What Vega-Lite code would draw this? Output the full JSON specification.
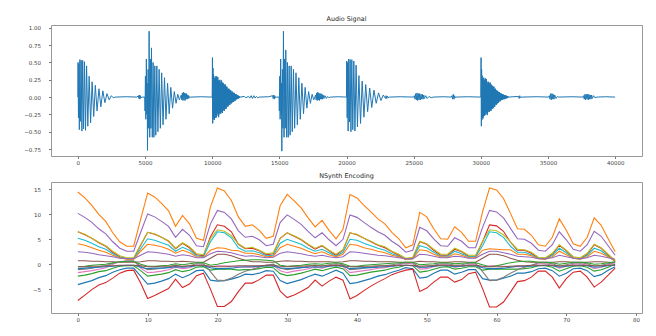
{
"$schema": "https://vega.github.io/schema/vega-lite/v6.json",
"padding": {"left": 20, "top": 15, "right": 10, "bottom": 5},
"background": "white",
"spacing": 3,
"config": {
 "font": "DejaVu Sans",
 "view": {"stroke": "#999", "strokeWidth": 1},
 "axis": {"grid": false, "domain": false, "labelFont": "DejaVu Sans", "labelFontSize": 5.5, "labelColor": "#444", "tickColor": "#777", "tickSize": 2.5, "labelOverlap": false},
 "axisX": {"labelPadding": 2, "minExtent": 12, "maxExtent": 12},
 "axisY": {"labelPadding": 8, "minExtent": 30, "maxExtent": 30},
 "title": {"fontSize": 6.4, "fontWeight": "normal", "color": "#222", "offset": 3, "font": "DejaVu Sans"}
},
"datasets": {
"audio": [
{"s":0,"v":0},{"s":15,"v":0.5},{"s":45,"v":-0.3},{"s":75,"v":0.48},{"s":110,"v":-0.47},{"s":150,"v":0.54},{"s":195,"v":-0.35},{"s":245,"v":0.53},{"s":300,"v":-0.49},{"s":360,"v":0.53},{"s":425,"v":-0.46},{"s":495,"v":0.51},{"s":570,"v":-0.48},{"s":650,"v":0.45},{"s":740,"v":-0.42},{"s":840,"v":0.3},{"s":950,"v":-0.37},{"s":1060,"v":0.22},{"s":1180,"v":-0.28},{"s":1300,"v":0.17},{"s":1430,"v":-0.2},{"s":1570,"v":0.12},{"s":1710,"v":-0.14},{"s":1860,"v":0.09},{"s":2010,"v":-0.08},{"s":2170,"v":0.05},{"s":2330,"v":-0.04},{"s":2490,"v":0.02},{"s":2640,"v":-0.01},{"s":2780,"v":0},
{"s":3600,"v":0.005},{"s":4400,"v":0},
{"s":4500,"v":0.02},{"s":4540,"v":-0.02},{"s":4580,"v":0.03},{"s":4620,"v":-0.03},{"s":4660,"v":0.02},{"s":4700,"v":-0.01},{"s":4800,"v":0},{"s":4980,"v":0},
{"s":5000,"v":-0.2},{"s":5030,"v":0.3},{"s":5060,"v":-0.32},{"s":5100,"v":0.55},{"s":5140,"v":-0.25},{"s":5160,"v":0.2},{"s":5185,"v":-0.77},{"s":5230,"v":0.4},{"s":5270,"v":-0.45},{"s":5305,"v":0.95},{"s":5350,"v":-0.58},{"s":5400,"v":0.55},{"s":5440,"v":-0.45},{"s":5480,"v":0.71},{"s":5540,"v":-0.58},{"s":5600,"v":0.5},{"s":5660,"v":-0.58},{"s":5730,"v":0.45},{"s":5800,"v":-0.55},{"s":5880,"v":0.45},{"s":5960,"v":-0.5},{"s":6050,"v":0.4},{"s":6140,"v":-0.45},{"s":6240,"v":0.35},{"s":6340,"v":-0.4},{"s":6450,"v":0.28},{"s":6560,"v":-0.32},{"s":6680,"v":0.2},{"s":6800,"v":-0.24},{"s":6920,"v":0.14},{"s":7050,"v":-0.16},{"s":7180,"v":0.08},{"s":7310,"v":-0.09},{"s":7440,"v":0.04},{"s":7560,"v":-0.04},{"s":7640,"v":0},
{"s":7700,"v":0.03},{"s":7740,"v":-0.04},{"s":7780,"v":0.06},{"s":7820,"v":-0.05},{"s":7860,"v":0.07},{"s":7900,"v":-0.04},{"s":7940,"v":0.06},{"s":7980,"v":-0.05},{"s":8020,"v":0.05},{"s":8060,"v":-0.03},{"s":8100,"v":0.05},{"s":8140,"v":-0.03},{"s":8180,"v":0.03},{"s":8220,"v":-0.02},{"s":8260,"v":0.02},{"s":8320,"v":-0.01},{"s":8400,"v":0},
{"s":9200,"v":0.005},{"s":9980,"v":0},
{"s":10000,"v":0},{"s":10020,"v":0.57},{"s":10040,"v":-0.38},{"s":10060,"v":0.42},{"s":10080,"v":-0.3},{"s":10100,"v":0.33},{"s":10120,"v":-0.32},{"s":10140,"v":0.28},{"s":10160,"v":-0.33},{"s":10180,"v":0.25},{"s":10200,"v":-0.3},{"s":10220,"v":0.3},{"s":10240,"v":-0.26},{"s":10260,"v":0.27},{"s":10280,"v":-0.3},{"s":10300,"v":0.21},{"s":10320,"v":-0.28},{"s":10340,"v":0.3},{"s":10360,"v":-0.24},{"s":10380,"v":0.27},{"s":10400,"v":-0.22},{"s":10420,"v":0.29},{"s":10440,"v":-0.27},{"s":10460,"v":0.24},{"s":10480,"v":-0.29},{"s":10500,"v":0.2},{"s":10520,"v":-0.25},{"s":10540,"v":0.24},{"s":10560,"v":-0.2},{"s":10580,"v":0.25},{"s":10600,"v":-0.23},{"s":10620,"v":0.19},{"s":10640,"v":-0.24},{"s":10660,"v":0.22},{"s":10680,"v":-0.18},{"s":10700,"v":0.24},{"s":10720,"v":-0.22},{"s":10740,"v":0.17},{"s":10760,"v":-0.23},{"s":10780,"v":0.21},{"s":10800,"v":-0.19},{"s":10820,"v":0.2},{"s":10840,"v":-0.17},{"s":10860,"v":0.19},{"s":10880,"v":-0.2},{"s":10900,"v":0.15},{"s":10920,"v":-0.19},{"s":10940,"v":0.18},{"s":10960,"v":-0.14},{"s":10980,"v":0.18},{"s":11000,"v":-0.17},{"s":11020,"v":0.13},{"s":11040,"v":-0.17},{"s":11060,"v":0.15},{"s":11080,"v":-0.12},{"s":11100,"v":0.15},{"s":11120,"v":-0.13},{"s":11140,"v":0.12},{"s":11160,"v":-0.14},{"s":11180,"v":0.11},{"s":11200,"v":-0.13},{"s":11220,"v":0.12},{"s":11240,"v":-0.1},{"s":11260,"v":0.12},{"s":11280,"v":-0.11},{"s":11300,"v":0.09},{"s":11320,"v":-0.11},{"s":11340,"v":0.1},{"s":11360,"v":-0.08},{"s":11380,"v":0.1},{"s":11400,"v":-0.09},{"s":11420,"v":0.08},{"s":11440,"v":-0.09},{"s":11460,"v":0.07},{"s":11480,"v":-0.08},{"s":11500,"v":0.08},{"s":11520,"v":-0.06},{"s":11540,"v":0.07},{"s":11560,"v":-0.07},{"s":11580,"v":0.05},{"s":11600,"v":-0.07},{"s":11620,"v":0.06},{"s":11640,"v":-0.05},{"s":11660,"v":0.06},{"s":11680,"v":-0.05},{"s":11700,"v":0.04},{"s":11720,"v":-0.05},{"s":11740,"v":0.04},{"s":11760,"v":-0.04},{"s":11780,"v":0.04},{"s":11800,"v":-0.03},{"s":11820,"v":0.035},{"s":11840,"v":-0.03},{"s":11860,"v":0.03},{"s":11880,"v":-0.025},{"s":11900,"v":0.025},{"s":11920,"v":-0.02},{"s":11940,"v":0.02},{"s":11960,"v":-0.02},{"s":11980,"v":0.015},{"s":12000,"v":-0.015},{"s":12020,"v":0.01},{"s":12040,"v":-0.01},{"s":12060,"v":0.005},{"s":12080,"v":0},
{"s":12400,"v":0.01},{"s":12500,"v":-0.01},{"s":12700,"v":0.01},{"s":12800,"v":-0.015},{"s":12900,"v":0.02},{"s":13000,"v":-0.02},{"s":13100,"v":0.02},{"s":13200,"v":-0.015},{"s":13300,"v":0.01},{"s":13400,"v":-0.01},{"s":13500,"v":0},
{"s":14200,"v":0.005},
{"s":14500,"v":0.02},{"s":14540,"v":-0.02},{"s":14580,"v":0.03},{"s":14620,"v":-0.03},{"s":14660,"v":0.02},{"s":14700,"v":-0.01},{"s":14800,"v":0},{"s":14980,"v":0},
{"s":15000,"v":-0.2},{"s":15030,"v":0.3},{"s":15060,"v":-0.32},{"s":15100,"v":0.55},{"s":15140,"v":-0.25},{"s":15160,"v":0.2},{"s":15185,"v":-0.78},{"s":15230,"v":0.4},{"s":15270,"v":-0.45},{"s":15305,"v":0.95},{"s":15350,"v":-0.58},{"s":15400,"v":0.55},{"s":15440,"v":-0.45},{"s":15480,"v":0.68},{"s":15540,"v":-0.58},{"s":15600,"v":0.5},{"s":15660,"v":-0.58},{"s":15730,"v":0.45},{"s":15800,"v":-0.55},{"s":15880,"v":0.45},{"s":15960,"v":-0.5},{"s":16050,"v":0.4},{"s":16140,"v":-0.45},{"s":16240,"v":0.35},{"s":16340,"v":-0.4},{"s":16450,"v":0.28},{"s":16560,"v":-0.32},{"s":16680,"v":0.2},{"s":16800,"v":-0.24},{"s":16920,"v":0.14},{"s":17050,"v":-0.16},{"s":17180,"v":0.08},{"s":17310,"v":-0.09},{"s":17440,"v":0.04},{"s":17560,"v":-0.04},{"s":17640,"v":0},
{"s":17700,"v":0.03},{"s":17740,"v":-0.04},{"s":17780,"v":0.06},{"s":17820,"v":-0.05},{"s":17860,"v":0.07},{"s":17900,"v":-0.04},{"s":17940,"v":0.06},{"s":17980,"v":-0.05},{"s":18020,"v":0.05},{"s":18060,"v":-0.03},{"s":18100,"v":0.05},{"s":18140,"v":-0.03},{"s":18180,"v":0.04},{"s":18220,"v":-0.03},{"s":18260,"v":0.03},{"s":18320,"v":-0.02},{"s":18400,"v":0.02},{"s":18500,"v":-0.02},{"s":18600,"v":0.01},{"s":18700,"v":-0.01},{"s":18800,"v":0},
{"s":19400,"v":0.005},{"s":19990,"v":0},
{"s":20000,"v":0},{"s":20017,"v":0.52},{"s":20050,"v":-0.3},{"s":20083,"v":0.5},{"s":20121,"v":-0.49},{"s":20165,"v":0.55},{"s":20215,"v":-0.36},{"s":20270,"v":0.54},{"s":20330,"v":-0.5},{"s":20396,"v":0.54},{"s":20468,"v":-0.47},{"s":20545,"v":0.52},{"s":20627,"v":-0.49},{"s":20715,"v":0.46},{"s":20814,"v":-0.43},{"s":20924,"v":0.31},{"s":21045,"v":-0.38},{"s":21166,"v":0.23},{"s":21298,"v":-0.29},{"s":21430,"v":0.18},{"s":21573,"v":-0.21},{"s":21727,"v":0.13},{"s":21881,"v":-0.15},{"s":22046,"v":0.1},{"s":22211,"v":-0.09},{"s":22387,"v":0.06},{"s":22563,"v":-0.05},{"s":22739,"v":0.03},{"s":22904,"v":-0.02},{"s":22950,"v":0.02},{"s":23000,"v":-0.02},{"s":23050,"v":0.015},{"s":23100,"v":-0.01},{"s":23200,"v":0},
{"s":24000,"v":0.005},{"s":25000,"v":0},
{"s":25050,"v":0.02},{"s":25100,"v":-0.03},{"s":25150,"v":0.05},{"s":25200,"v":-0.04},{"s":25250,"v":0.06},{"s":25300,"v":-0.05},{"s":25350,"v":0.05},{"s":25400,"v":-0.04},{"s":25450,"v":0.05},{"s":25500,"v":-0.04},{"s":25550,"v":0.04},{"s":25600,"v":-0.03},{"s":25650,"v":0.04},{"s":25700,"v":-0.03},{"s":25750,"v":0.03},{"s":25800,"v":-0.02},{"s":25900,"v":0.02},{"s":26000,"v":-0.02},{"s":26150,"v":0.01},{"s":26300,"v":-0.01},{"s":26450,"v":0},
{"s":27200,"v":0.005},{"s":27800,"v":0},
{"s":27850,"v":0.02},{"s":27900,"v":-0.03},{"s":27950,"v":0.04},{"s":28000,"v":-0.03},{"s":28050,"v":0.02},{"s":28100,"v":-0.01},{"s":28150,"v":0},
{"s":29000,"v":0.005},{"s":29980,"v":0},
{"s":30000,"v":0},{"s":30020,"v":0.57},{"s":30040,"v":-0.42},{"s":30060,"v":0.4},{"s":30080,"v":-0.33},{"s":30100,"v":0.31},{"s":30120,"v":-0.3},{"s":30140,"v":0.27},{"s":30160,"v":-0.31},{"s":30180,"v":0.24},{"s":30200,"v":-0.28},{"s":30220,"v":0.28},{"s":30240,"v":-0.24},{"s":30260,"v":0.25},{"s":30280,"v":-0.27},{"s":30300,"v":0.2},{"s":30320,"v":-0.26},{"s":30340,"v":0.27},{"s":30360,"v":-0.22},{"s":30380,"v":0.25},{"s":30400,"v":-0.21},{"s":30420,"v":0.26},{"s":30440,"v":-0.24},{"s":30460,"v":0.22},{"s":30480,"v":-0.26},{"s":30500,"v":0.18},{"s":30520,"v":-0.22},{"s":30540,"v":0.22},{"s":30560,"v":-0.18},{"s":30580,"v":0.22},{"s":30600,"v":-0.21},{"s":30620,"v":0.17},{"s":30640,"v":-0.21},{"s":30660,"v":0.2},{"s":30680,"v":-0.16},{"s":30700,"v":0.21},{"s":30720,"v":-0.19},{"s":30740,"v":0.15},{"s":30760,"v":-0.2},{"s":30780,"v":0.18},{"s":30800,"v":-0.17},{"s":30820,"v":0.17},{"s":30840,"v":-0.15},{"s":30860,"v":0.16},{"s":30880,"v":-0.17},{"s":30900,"v":0.13},{"s":30920,"v":-0.16},{"s":30940,"v":0.15},{"s":30960,"v":-0.12},{"s":30980,"v":0.15},{"s":31000,"v":-0.14},{"s":31020,"v":0.11},{"s":31040,"v":-0.14},{"s":31060,"v":0.12},{"s":31080,"v":-0.1},{"s":31100,"v":0.12},{"s":31120,"v":-0.11},{"s":31140,"v":0.1},{"s":31160,"v":-0.11},{"s":31180,"v":0.09},{"s":31200,"v":-0.1},{"s":31220,"v":0.09},{"s":31240,"v":-0.08},{"s":31260,"v":0.09},{"s":31280,"v":-0.08},{"s":31300,"v":0.07},{"s":31320,"v":-0.08},{"s":31340,"v":0.07},{"s":31360,"v":-0.06},{"s":31380,"v":0.07},{"s":31400,"v":-0.06},{"s":31420,"v":0.06},{"s":31440,"v":-0.06},{"s":31460,"v":0.05},{"s":31480,"v":-0.05},{"s":31500,"v":0.05},{"s":31520,"v":-0.04},{"s":31540,"v":0.05},{"s":31560,"v":-0.04},{"s":31580,"v":0.04},{"s":31600,"v":-0.04},{"s":31620,"v":0.04},{"s":31640,"v":-0.03},{"s":31660,"v":0.04},{"s":31680,"v":-0.03},{"s":31700,"v":0.03},{"s":31720,"v":-0.03},{"s":31740,"v":0.03},{"s":31760,"v":-0.03},{"s":31780,"v":0.03},{"s":31800,"v":-0.02},{"s":31820,"v":0.025},{"s":31840,"v":-0.02},{"s":31860,"v":0.02},{"s":31880,"v":-0.02},{"s":31900,"v":0.02},{"s":31920,"v":-0.015},{"s":31940,"v":0.015},{"s":31960,"v":-0.015},{"s":31980,"v":0.01},{"s":32000,"v":-0.01},{"s":32020,"v":0.01},{"s":32040,"v":-0.005},{"s":32060,"v":0.005},{"s":32080,"v":0},
{"s":32800,"v":0.01},{"s":32850,"v":-0.02},{"s":32900,"v":0.02},{"s":32950,"v":-0.01},{"s":33000,"v":0},
{"s":34200,"v":0.005},{"s":35050,"v":0},
{"s":35100,"v":0.02},{"s":35150,"v":-0.03},{"s":35200,"v":0.05},{"s":35250,"v":-0.04},{"s":35300,"v":0.05},{"s":35350,"v":-0.03},{"s":35400,"v":0.04},{"s":35450,"v":-0.03},{"s":35500,"v":0.03},{"s":35600,"v":-0.02},{"s":35700,"v":0.01},{"s":35800,"v":0},
{"s":36800,"v":0.005},{"s":37600,"v":0},
{"s":37650,"v":0.02},{"s":37700,"v":-0.03},{"s":37750,"v":0.04},{"s":37800,"v":-0.04},{"s":37850,"v":0.04},{"s":37900,"v":-0.03},{"s":37950,"v":0.04},{"s":38000,"v":-0.04},{"s":38050,"v":0.04},{"s":38100,"v":-0.03},{"s":38150,"v":0.03},{"s":38200,"v":-0.03},{"s":38250,"v":0.03},{"s":38300,"v":-0.02},{"s":38400,"v":0.02},{"s":38500,"v":-0.01},{"s":38650,"v":0},
{"s":39300,"v":0.005},{"s":40000,"v":0}
],
"enc": [
{"t":0,"c00":-4.1,"c01":14.5,"c02":-2.4,"c03":6.5,"c04":10.2,"c05":0.7,"c06":-1.7,"c07":-1.1,"c08":6.5,"c09":5.2,"c10":-0.9,"c11":4.1,"c12":-0.5,"c13":-7.3,"c14":2.5,"c15":-0.5},
{"t":1,"c00":-3.7,"c01":13.3,"c02":-2.2,"c03":5.9,"c04":9.4,"c05":0.7,"c06":-1.5,"c07":-1.0,"c08":6.0,"c09":4.8,"c10":-0.8,"c11":3.8,"c12":-0.4,"c13":-6.2,"c14":2.4,"c15":-0.5},
{"t":2,"c00":-3.3,"c01":11.8,"c02":-1.9,"c03":5.2,"c04":8.4,"c05":0.6,"c06":-1.3,"c07":-0.8,"c08":5.2,"c09":4.2,"c10":-0.7,"c11":3.3,"c12":-0.2,"c13":-5.1,"c14":2.2,"c15":-0.4},
{"t":3,"c00":-2.7,"c01":10.0,"c02":-1.5,"c03":4.3,"c04":7.1,"c05":0.6,"c06":-1.0,"c07":-0.5,"c08":4.4,"c09":3.5,"c10":-0.6,"c11":2.8,"c12":-0.1,"c13":-4.2,"c14":1.9,"c15":-0.4},
{"t":4,"c00":-2.3,"c01":8.6,"c02":-1.3,"c03":3.6,"c04":6.1,"c05":0.5,"c06":-0.7,"c07":-0.3,"c08":3.7,"c09":3.0,"c10":-0.5,"c11":2.4,"c12":0.0,"c13":-3.7,"c14":1.7,"c15":-0.3},
{"t":5,"c00":-1.6,"c01":6.3,"c02":-0.8,"c03":2.4,"c04":4.5,"c05":0.5,"c06":0.0,"c07":0.2,"c08":2.6,"c09":2.1,"c10":-0.4,"c11":1.8,"c12":0.3,"c13":-2.8,"c14":1.5,"c15":-0.3},
{"t":6,"c00":-1.1,"c01":4.5,"c02":-0.4,"c03":1.5,"c04":3.2,"c05":0.4,"c06":0.5,"c07":0.5,"c08":1.7,"c09":1.4,"c10":-0.3,"c11":1.3,"c12":0.5,"c13":-1.8,"c14":1.2,"c15":-0.2},
{"t":7,"c00":-0.8,"c01":3.6,"c02":-0.3,"c03":1.1,"c04":2.6,"c05":0.4,"c06":0.7,"c07":0.6,"c08":1.3,"c09":1.1,"c10":-0.2,"c11":1.0,"c12":0.6,"c13":-1.3,"c14":1.1,"c15":-0.2},
{"t":8,"c00":-0.8,"c01":3.6,"c02":-0.3,"c03":1.1,"c04":2.6,"c05":0.4,"c06":0.7,"c07":0.6,"c08":1.3,"c09":1.1,"c10":-0.2,"c11":1.0,"c12":0.6,"c13":-1.2,"c14":1.1,"c15":-0.2},
{"t":9,"c00":-2.4,"c01":9.0,"c02":-1.3,"c03":3.8,"c04":6.4,"c05":0.5,"c06":-0.8,"c07":-0.4,"c08":3.9,"c09":3.1,"c10":-0.6,"c11":2.6,"c12":0.0,"c13":-3.8,"c14":1.8,"c15":-0.3},
{"t":10,"c00":-4.0,"c01":14.3,"c02":-2.4,"c03":6.4,"c04":10.1,"c05":0.7,"c06":-1.7,"c07":-1.1,"c08":6.4,"c09":5.1,"c10":-0.9,"c11":4.0,"c12":-0.4,"c13":-6.9,"c14":2.5,"c15":-0.5},
{"t":11,"c00":-3.8,"c01":13.5,"c02":-2.2,"c03":6.0,"c04":9.5,"c05":0.7,"c06":-1.6,"c07":-1.0,"c08":6.1,"c09":4.8,"c10":-0.8,"c11":3.8,"c12":-0.4,"c13":-6.3,"c14":2.4,"c15":-0.5},
{"t":12,"c00":-3.4,"c01":12.2,"c02":-2.0,"c03":5.4,"c04":8.6,"c05":0.6,"c06":-1.4,"c07":-0.8,"c08":5.4,"c09":4.3,"c10":-0.8,"c11":3.5,"c12":-0.3,"c13":-5.6,"c14":2.2,"c15":-0.4},
{"t":13,"c00":-2.9,"c01":10.7,"c02":-1.7,"c03":4.6,"c04":7.6,"c05":0.6,"c06":-1.1,"c07":-0.6,"c08":4.7,"c09":3.8,"c10":-0.7,"c11":3.0,"c12":-0.2,"c13":-4.9,"c14":2.0,"c15":-0.4},
{"t":14,"c00":-2.0,"c01":7.6,"c02":-1.1,"c03":3.1,"c04":5.4,"c05":0.5,"c06":-0.6,"c07":-0.2,"c08":3.2,"c09":2.6,"c10":-0.5,"c11":2.2,"c12":0.1,"c13":-3.0,"c14":1.6,"c15":-0.3},
{"t":15,"c00":-2.7,"c01":9.8,"c02":-1.5,"c03":4.2,"c04":7.0,"c05":0.6,"c06":-0.9,"c07":-0.5,"c08":4.3,"c09":3.4,"c10":-0.6,"c11":2.8,"c12":-0.1,"c13":-4.7,"c14":1.9,"c15":-0.4},
{"t":16,"c00":-2.1,"c01":8.1,"c02":-1.2,"c03":3.3,"c04":5.8,"c05":0.5,"c06":-0.7,"c07":-0.3,"c08":3.5,"c09":2.8,"c10":-0.5,"c11":2.3,"c12":0.1,"c13":-4.0,"c14":1.7,"c15":-0.3},
{"t":17,"c00":-1.3,"c01":5.2,"c02":-0.6,"c03":1.9,"c04":3.7,"c05":0.4,"c06":-0.2,"c07":0.1,"c08":2.1,"c09":1.7,"c10":-0.3,"c11":1.5,"c12":0.3,"c13":-2.3,"c14":1.3,"c15":-0.2},
{"t":18,"c00":-1.2,"c01":4.8,"c02":-0.5,"c03":1.7,"c04":3.5,"c05":0.4,"c06":-0.1,"c07":0.1,"c08":1.9,"c09":1.5,"c10":-0.3,"c11":1.4,"c12":0.3,"c13":-1.8,"c14":1.3,"c15":-0.2},
{"t":19,"c00":-3.2,"c01":11.5,"c02":-1.2,"c03":5.5,"c04":8.1,"c05":1.2,"c06":-0.6,"c07":-1.5,"c08":5.1,"c09":4.5,"c10":-0.7,"c11":2.8,"c12":-0.2,"c13":-5.0,"c14":2.1,"c15":-0.4},
{"t":20,"c00":-3.4,"c01":15.3,"c02":-1.0,"c03":7.9,"c04":10.8,"c05":2.0,"c06":-0.3,"c07":-3.2,"c08":6.9,"c09":6.5,"c10":-0.9,"c11":3.3,"c12":0.0,"c13":-8.5,"c14":2.6,"c15":-0.5},
{"t":21,"c00":-3.3,"c01":14.7,"c02":-1.0,"c03":7.6,"c04":10.4,"c05":2.0,"c06":-0.3,"c07":-3.3,"c08":6.6,"c09":6.3,"c10":-0.9,"c11":3.2,"c12":0.3,"c13":-8.5,"c14":2.5,"c15":-0.5},
{"t":22,"c00":-3.0,"c01":12.8,"c02":-1.0,"c03":6.5,"c04":9.1,"c05":1.7,"c06":-0.4,"c07":-2.8,"c08":5.7,"c09":5.3,"c10":-0.8,"c11":2.8,"c12":0.5,"c13":-7.5,"c14":2.3,"c15":-0.4},
{"t":23,"c00":-2.6,"c01":9.5,"c02":-1.2,"c03":4.0,"c04":6.7,"c05":1.2,"c06":-0.5,"c07":-2.0,"c08":4.1,"c09":3.3,"c10":-0.6,"c11":2.7,"c12":0.7,"c13":-5.5,"c14":1.9,"c15":-0.3},
{"t":24,"c00":-2.0,"c01":7.6,"c02":-1.1,"c03":3.1,"c04":5.4,"c05":0.8,"c06":-0.6,"c07":-1.4,"c08":3.2,"c09":2.6,"c10":-0.5,"c11":2.2,"c12":0.8,"c13":-3.8,"c14":1.6,"c15":-0.3},
{"t":25,"c00":-2.1,"c01":7.9,"c02":-1.1,"c03":3.2,"c04":5.6,"c05":0.5,"c06":-0.6,"c07":-1.0,"c08":3.4,"c09":2.7,"c10":-0.5,"c11":2.2,"c12":0.9,"c13":-3.8,"c14":1.7,"c15":-0.3},
{"t":26,"c00":-1.8,"c01":6.8,"c02":-0.9,"c03":2.7,"c04":4.9,"c05":0.5,"c06":-0.4,"c07":-0.6,"c08":2.8,"c09":2.3,"c10":-0.4,"c11":1.9,"c12":0.9,"c13":-3.1,"c14":1.5,"c15":-0.3},
{"t":27,"c00":-1.3,"c01":5.2,"c02":-0.6,"c03":1.9,"c04":3.7,"c05":0.4,"c06":-0.2,"c07":-0.2,"c08":2.1,"c09":1.7,"c10":-0.3,"c11":1.5,"c12":0.8,"c13":-2.2,"c14":1.3,"c15":-0.2},
{"t":28,"c00":-1.4,"c01":5.6,"c02":-0.7,"c03":2.1,"c04":4.0,"c05":0.4,"c06":-0.2,"c07":0.0,"c08":2.3,"c09":1.8,"c10":-0.4,"c11":1.6,"c12":0.7,"c13":-2.2,"c14":1.4,"c15":-0.2},
{"t":29,"c00":-3.3,"c01":11.8,"c02":-1.9,"c03":5.2,"c04":8.4,"c05":0.6,"c06":-1.3,"c07":-0.8,"c08":5.2,"c09":4.2,"c10":-0.7,"c11":3.3,"c12":-0.2,"c13":-5.4,"c14":2.2,"c15":-0.4},
{"t":30,"c00":-3.9,"c01":14.0,"c02":-2.3,"c03":6.3,"c04":9.9,"c05":0.7,"c06":-1.7,"c07":-1.1,"c08":6.3,"c09":5.0,"c10":-0.9,"c11":4.0,"c12":-0.4,"c13":-6.7,"c14":2.5,"c15":-0.5},
{"t":31,"c00":-3.5,"c01":12.7,"c02":-2.1,"c03":5.6,"c04":9.0,"c05":0.6,"c06":-1.4,"c07":-0.9,"c08":5.7,"c09":4.5,"c10":-0.8,"c11":3.6,"c12":-0.3,"c13":-6.2,"c14":2.3,"c15":-0.4},
{"t":32,"c00":-3.1,"c01":11.3,"c02":-1.8,"c03":4.9,"c04":8.0,"c05":0.6,"c06":-1.2,"c07":-0.7,"c08":5.0,"c09":4.0,"c10":-0.7,"c11":3.2,"c12":-0.2,"c13":-5.5,"c14":2.1,"c15":-0.4},
{"t":33,"c00":-2.5,"c01":9.3,"c02":-1.4,"c03":3.9,"c04":6.6,"c05":0.5,"c06":-0.9,"c07":-0.4,"c08":4.0,"c09":3.2,"c10":-0.6,"c11":2.6,"c12":0.0,"c13":-4.7,"c14":1.8,"c15":-0.3},
{"t":34,"c00":-2.0,"c01":7.5,"c02":-1.0,"c03":3.0,"c04":5.3,"c05":0.5,"c06":-0.6,"c07":-0.2,"c08":3.2,"c09":2.6,"c10":-0.5,"c11":2.1,"c12":0.1,"c13":-3.2,"c14":1.6,"c15":-0.3},
{"t":35,"c00":-2.4,"c01":8.8,"c02":-1.3,"c03":3.7,"c04":6.3,"c05":0.5,"c06":-0.8,"c07":-0.4,"c08":3.8,"c09":3.0,"c10":-0.6,"c11":2.5,"c12":0.0,"c13":-4.4,"c14":1.8,"c15":-0.3},
{"t":36,"c00":-1.8,"c01":6.8,"c02":-0.9,"c03":2.7,"c04":4.9,"c05":0.5,"c06":-0.4,"c07":-0.1,"c08":2.8,"c09":2.3,"c10":-0.4,"c11":1.9,"c12":0.2,"c13":-3.4,"c14":1.5,"c15":-0.3},
{"t":37,"c00":-1.2,"c01":5.1,"c02":-0.6,"c03":1.8,"c04":3.7,"c05":0.4,"c06":-0.1,"c07":0.1,"c08":2.0,"c09":1.6,"c10":-0.3,"c11":1.5,"c12":0.3,"c13":-2.6,"c14":1.3,"c15":-0.2},
{"t":38,"c00":-1.8,"c01":7.0,"c02":-0.9,"c03":2.8,"c04":5.0,"c05":0.5,"c06":-0.5,"c07":-0.1,"c08":2.9,"c09":2.4,"c10":-0.4,"c11":2.0,"c12":0.1,"c13":-3.2,"c14":1.5,"c15":-0.3},
{"t":39,"c00":-3.9,"c01":14.0,"c02":-2.3,"c03":6.3,"c04":9.9,"c05":0.7,"c06":-1.7,"c07":-1.1,"c08":6.3,"c09":5.0,"c10":-0.9,"c11":4.0,"c12":-0.4,"c13":-7.0,"c14":2.5,"c15":-0.5},
{"t":40,"c00":-3.7,"c01":13.3,"c02":-2.2,"c03":5.9,"c04":9.4,"c05":0.7,"c06":-1.5,"c07":-1.0,"c08":6.0,"c09":4.8,"c10":-0.8,"c11":3.8,"c12":-0.4,"c13":-6.3,"c14":2.4,"c15":-0.5},
{"t":41,"c00":-3.3,"c01":11.8,"c02":-1.9,"c03":5.2,"c04":8.4,"c05":0.6,"c06":-1.3,"c07":-0.8,"c08":5.2,"c09":4.2,"c10":-0.7,"c11":3.3,"c12":-0.2,"c13":-5.3,"c14":2.2,"c15":-0.4},
{"t":42,"c00":-2.9,"c01":10.5,"c02":-1.6,"c03":4.5,"c04":7.4,"c05":0.6,"c06":-1.1,"c07":-0.6,"c08":4.6,"c09":3.7,"c10":-0.7,"c11":3.0,"c12":-0.1,"c13":-4.4,"c14":2.0,"c15":-0.4},
{"t":43,"c00":-2.4,"c01":9.1,"c02":-1.4,"c03":3.8,"c04":6.5,"c05":0.5,"c06":-0.8,"c07":-0.4,"c08":3.9,"c09":3.2,"c10":-0.6,"c11":2.6,"c12":0.0,"c13":-3.6,"c14":1.8,"c15":-0.3},
{"t":44,"c00":-2.1,"c01":8.1,"c02":-1.2,"c03":3.3,"c04":5.8,"c05":0.5,"c06":-0.7,"c07":-0.3,"c08":3.5,"c09":2.8,"c10":-0.5,"c11":2.3,"c12":0.1,"c13":-2.9,"c14":1.7,"c15":-0.3},
{"t":45,"c00":-1.6,"c01":6.4,"c02":-0.8,"c03":2.5,"c04":4.6,"c05":0.5,"c06":-0.4,"c07":-0.1,"c08":2.6,"c09":2.1,"c10":-0.4,"c11":1.8,"c12":0.2,"c13":-2.1,"c14":1.5,"c15":-0.3},
{"t":46,"c00":-1.2,"c01":5.1,"c02":-0.6,"c03":1.8,"c04":3.7,"c05":0.4,"c06":-0.1,"c07":0.1,"c08":2.0,"c09":1.6,"c10":-0.3,"c11":1.5,"c12":0.3,"c13":-1.6,"c14":1.3,"c15":-0.2},
{"t":47,"c00":-0.7,"c01":3.3,"c02":-0.2,"c03":0.9,"c04":2.4,"c05":0.4,"c06":0.2,"c07":0.3,"c08":1.2,"c09":1.0,"c10":-0.2,"c11":1.0,"c12":0.4,"c13":-1.2,"c14":1.1,"c15":-0.2},
{"t":48,"c00":-0.9,"c01":3.9,"c02":-0.3,"c03":1.2,"c04":2.8,"c05":0.4,"c06":0.1,"c07":0.3,"c08":1.4,"c09":1.1,"c10":-0.3,"c11":1.1,"c12":0.4,"c13":-1.0,"c14":1.1,"c15":-0.2},
{"t":49,"c00":-2.8,"c01":10.4,"c02":-1.6,"c03":4.5,"c04":7.4,"c05":0.6,"c06":-1.0,"c07":-0.6,"c08":4.6,"c09":3.7,"c10":-0.6,"c11":2.9,"c12":-0.1,"c13":-5.5,"c14":2.0,"c15":-0.4},
{"t":50,"c00":-2.6,"c01":9.5,"c02":-1.4,"c03":4.0,"c04":6.7,"c05":0.5,"c06":-0.9,"c07":-0.5,"c08":4.1,"c09":3.3,"c10":-0.6,"c11":2.7,"c12":0.0,"c13":-4.8,"c14":1.9,"c15":-0.3},
{"t":51,"c00":-1.8,"c01":7.1,"c02":-1.0,"c03":2.8,"c04":5.1,"c05":0.5,"c06":-0.5,"c07":-0.2,"c08":3.0,"c09":2.4,"c10":-0.4,"c11":2.0,"c12":0.1,"c13":-3.6,"c14":1.6,"c15":-0.3},
{"t":52,"c00":-1.2,"c01":5.1,"c02":-0.6,"c03":1.8,"c04":3.7,"c05":0.4,"c06":-0.1,"c07":0.1,"c08":2.0,"c09":1.6,"c10":-0.3,"c11":1.5,"c12":0.3,"c13":-2.6,"c14":1.3,"c15":-0.2},
{"t":53,"c00":-1.2,"c01":5.0,"c02":-0.5,"c03":1.8,"c04":3.6,"c05":0.4,"c06":-0.1,"c07":0.1,"c08":2.0,"c09":1.6,"c10":-0.3,"c11":1.4,"c12":0.3,"c13":-2.6,"c14":1.3,"c15":-0.2},
{"t":54,"c00":-2.0,"c01":7.5,"c02":-1.0,"c03":3.0,"c04":5.3,"c05":0.5,"c06":-0.6,"c07":-0.2,"c08":3.2,"c09":2.6,"c10":-0.5,"c11":2.1,"c12":0.1,"c13":-3.6,"c14":1.6,"c15":-0.3},
{"t":55,"c00":-1.6,"c01":6.4,"c02":-0.8,"c03":2.5,"c04":4.6,"c05":0.5,"c06":-0.4,"c07":-0.1,"c08":2.6,"c09":2.1,"c10":-0.4,"c11":1.8,"c12":0.2,"c13":-3.1,"c14":1.5,"c15":-0.3},
{"t":56,"c00":-1.1,"c01":4.6,"c02":-0.5,"c03":1.6,"c04":3.3,"c05":0.4,"c06":-0.1,"c07":0.2,"c08":1.8,"c09":1.5,"c10":-0.3,"c11":1.3,"c12":0.3,"c13":-1.9,"c14":1.2,"c15":-0.2},
{"t":57,"c00":-1.1,"c01":4.6,"c02":-0.5,"c03":1.6,"c04":3.3,"c05":0.4,"c06":-0.1,"c07":0.2,"c08":1.8,"c09":1.5,"c10":-0.3,"c11":1.3,"c12":0.3,"c13":-1.6,"c14":1.2,"c15":-0.2},
{"t":58,"c00":-2.9,"c01":10.5,"c02":-1.2,"c03":4.5,"c04":7.4,"c05":1.2,"c06":-0.6,"c07":-1.5,"c08":4.6,"c09":3.7,"c10":-0.7,"c11":2.8,"c12":-0.1,"c13":-4.9,"c14":2.0,"c15":-0.4},
{"t":59,"c00":-3.2,"c01":15.3,"c02":-1.0,"c03":7.9,"c04":10.8,"c05":2.0,"c06":-0.3,"c07":-3.3,"c08":6.9,"c09":6.5,"c10":-0.9,"c11":3.1,"c12":-0.5,"c13":-8.6,"c14":2.6,"c15":-0.5},
{"t":60,"c00":-3.2,"c01":14.9,"c02":-1.0,"c03":7.7,"c04":10.5,"c05":2.0,"c06":-0.3,"c07":-3.2,"c08":6.7,"c09":6.3,"c10":-0.9,"c11":3.0,"c12":-0.3,"c13":-8.6,"c14":2.6,"c15":-0.5},
{"t":61,"c00":-2.8,"c01":13.2,"c02":-1.0,"c03":6.6,"c04":9.3,"c05":1.7,"c06":-0.4,"c07":-2.6,"c08":5.9,"c09":5.4,"c10":-0.8,"c11":2.9,"c12":0.0,"c13":-7.6,"c14":2.3,"c15":-0.5},
{"t":62,"c00":-2.4,"c01":10.2,"c02":-1.0,"c03":4.4,"c04":7.2,"c05":1.2,"c06":-0.5,"c07":-1.8,"c08":4.5,"c09":3.6,"c10":-0.6,"c11":2.9,"c12":0.3,"c13":-5.6,"c14":2.0,"c15":-0.4},
{"t":63,"c00":-1.8,"c01":7.1,"c02":-1.0,"c03":2.8,"c04":5.1,"c05":0.8,"c06":-0.5,"c07":-1.1,"c08":3.0,"c09":2.4,"c10":-0.4,"c11":2.0,"c12":0.5,"c13":-3.5,"c14":1.6,"c15":-0.3},
{"t":64,"c00":-1.8,"c01":7.0,"c02":-0.9,"c03":2.8,"c04":5.0,"c05":0.5,"c06":-0.5,"c07":-0.6,"c08":2.9,"c09":2.4,"c10":-0.4,"c11":2.0,"c12":0.6,"c13":-3.3,"c14":1.5,"c15":-0.3},
{"t":65,"c00":-1.5,"c01":5.8,"c02":-0.7,"c03":2.2,"c04":4.2,"c05":0.4,"c06":-0.3,"c07":-0.2,"c08":2.4,"c09":1.9,"c10":-0.4,"c11":1.7,"c12":0.6,"c13":-2.6,"c14":1.4,"c15":-0.2},
{"t":66,"c00":-0.9,"c01":3.9,"c02":-0.3,"c03":1.2,"c04":2.8,"c05":0.4,"c06":0.1,"c07":0.3,"c08":1.4,"c09":1.2,"c10":-0.3,"c11":1.1,"c12":0.4,"c13":-1.4,"c14":1.1,"c15":-0.2},
{"t":67,"c00":-0.8,"c01":3.6,"c02":-0.3,"c03":1.1,"c04":2.6,"c05":0.4,"c06":0.1,"c07":0.3,"c08":1.3,"c09":1.0,"c10":-0.2,"c11":1.0,"c12":0.4,"c13":-1.4,"c14":1.1,"c15":-0.2},
{"t":68,"c00":-1.3,"c01":5.4,"c02":-0.6,"c03":2.0,"c04":3.9,"c05":0.4,"c06":-0.2,"c07":0.1,"c08":2.2,"c09":1.8,"c10":-0.3,"c11":1.5,"c12":0.3,"c13":-2.6,"c14":1.3,"c15":-0.2},
{"t":69,"c00":-2.4,"c01":9.1,"c02":-1.4,"c03":3.8,"c04":6.5,"c05":0.5,"c06":-0.8,"c07":-0.4,"c08":3.9,"c09":3.2,"c10":-0.6,"c11":2.6,"c12":0.0,"c13":-4.8,"c14":1.8,"c15":-0.3},
{"t":70,"c00":-1.8,"c01":6.8,"c02":-0.9,"c03":2.7,"c04":4.9,"c05":0.5,"c06":-0.4,"c07":-0.1,"c08":2.8,"c09":2.3,"c10":-0.4,"c11":1.9,"c12":0.2,"c13":-2.9,"c14":1.5,"c15":-0.3},
{"t":71,"c00":-0.9,"c01":4.1,"c02":-0.4,"c03":1.3,"c04":3.0,"c05":0.4,"c06":0.0,"c07":0.2,"c08":1.5,"c09":1.2,"c10":-0.3,"c11":1.2,"c12":0.4,"c13":-1.6,"c14":1.2,"c15":-0.2},
{"t":72,"c00":-0.8,"c01":3.6,"c02":-0.3,"c03":1.1,"c04":2.6,"c05":0.4,"c06":0.1,"c07":0.3,"c08":1.3,"c09":1.0,"c10":-0.2,"c11":1.0,"c12":0.4,"c13":-1.4,"c14":1.1,"c15":-0.2},
{"t":73,"c00":-1.3,"c01":5.4,"c02":-0.6,"c03":2.0,"c04":3.9,"c05":0.4,"c06":-0.2,"c07":0.1,"c08":2.2,"c09":1.8,"c10":-0.3,"c11":1.5,"c12":0.3,"c13":-2.6,"c14":1.3,"c15":-0.2},
{"t":74,"c00":-2.5,"c01":9.3,"c02":-1.4,"c03":3.9,"c04":6.6,"c05":0.5,"c06":-0.9,"c07":-0.4,"c08":4.0,"c09":3.2,"c10":-0.6,"c11":2.6,"c12":0.0,"c13":-4.6,"c14":1.8,"c15":-0.3},
{"t":75,"c00":-2.1,"c01":7.8,"c02":-1.1,"c03":3.2,"c04":5.6,"c05":0.5,"c06":-0.6,"c07":-0.2,"c08":3.3,"c09":2.7,"c10":-0.5,"c11":2.2,"c12":0.1,"c13":-3.6,"c14":1.6,"c15":-0.3},
{"t":76,"c00":-1.2,"c01":5.1,"c02":-0.6,"c03":1.8,"c04":3.7,"c05":0.4,"c06":-0.1,"c07":0.1,"c08":2.0,"c09":1.6,"c10":-0.3,"c11":1.5,"c12":0.3,"c13":-2.2,"c14":1.3,"c15":-0.2},
{"t":77,"c00":-0.5,"c01":2.5,"c02":0.0,"c03":0.5,"c04":1.8,"c05":0.3,"c06":0.3,"c07":0.4,"c08":0.8,"c09":0.6,"c10":-0.2,"c11":0.7,"c12":0.5,"c13":-0.8,"c14":1.0,"c15":-0.1}
]
},
"vconcat": [
{
 "title": "Audio Signal",
 "width": 591, "height": 131,
 "data": {"name": "audio"},
 "mark": {"type": "line", "strokeWidth": 1, "color": "#1f77b4", "clip": true},
 "encoding": {
  "x": {"field": "s", "type": "quantitative", "title": null, "scale": {"domain": [-2000, 42000], "nice": false, "zero": false}, "axis": {"values": [0,5000,10000,15000,20000,25000,30000,35000,40000], "format": "d"}},
  "y": {"field": "v", "type": "quantitative", "title": null, "scale": {"domain": [-0.85, 1.04], "nice": false, "zero": false}, "axis": {"values": [-0.75,-0.5,-0.25,0,0.25,0.5,0.75,1.0], "format": ".2f"}}
 }
},
{
 "title": "NSynth Encoding",
 "width": 591, "height": 131,
 "data": {"name": "enc"},
 "transform": [{"fold": ["c00","c01","c02","c03","c04","c05","c06","c07","c08","c09","c10","c11","c12","c13","c14","c15"], "as": ["ch","val"]}],
 "mark": {"type": "line", "strokeWidth": 1.1, "clip": true},
 "encoding": {
  "x": {"field": "t", "type": "quantitative", "title": null, "scale": {"domain": [-3.85, 80.85], "nice": false, "zero": false}, "axis": {"values": [0,10,20,30,40,50,60,70,80], "format": "d"}},
  "y": {"field": "val", "type": "quantitative", "title": null, "scale": {"domain": [-9.8, 16.5], "nice": false, "zero": false}, "axis": {"values": [-5,0,5,10,15], "format": "d"}},
  "color": {"field": "ch", "type": "nominal", "legend": null, "scale": {"domain": ["c00","c01","c02","c03","c04","c05","c06","c07","c08","c09","c10","c11","c12","c13","c14","c15"], "range": ["#1f77b4","#ff7f0e","#2ca02c","#d62728","#9467bd","#8c564b","#e377c2","#7f7f7f","#bcbd22","#17becf","#1f77b4","#ff7f0e","#2ca02c","#d62728","#9467bd","#8c564b"]}}
 }
}
]
}
